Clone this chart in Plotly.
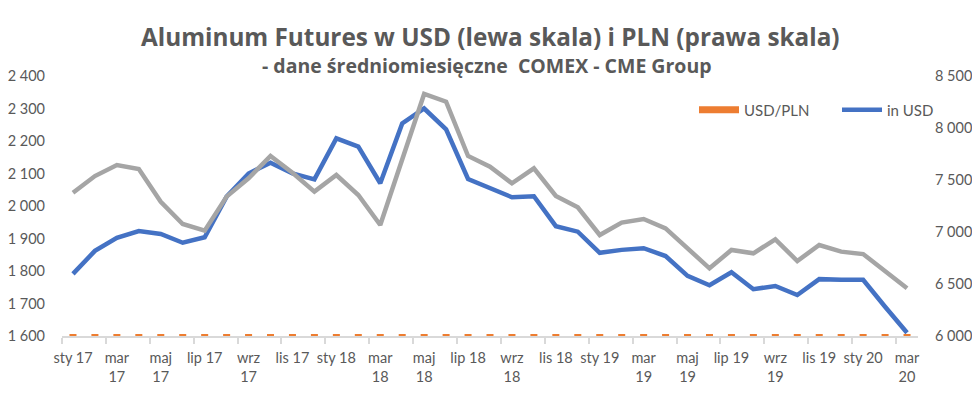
import plotly.graph_objects as go

months = ["sty 17","lut 17","mar 17","kwi 17","maj 17","cze 17","lip 17","sie 17","wrz 17","paź 17","lis 17","gru 17",
          "sty 18","lut 18","mar 18","kwi 18","maj 18","cze 18","lip 18","sie 18","wrz 18","paź 18","lis 18","gru 18",
          "sty 19","lut 19","mar 19","kwi 19","maj 19","cze 19","lip 19","sie 19","wrz 19","paź 19","lis 19","gru 19",
          "sty 20","lut 20","mar 20"]

usd = [1791, 1862, 1902, 1923, 1914, 1887, 1904, 2029, 2100, 2133, 2100, 2082,
       2208, 2183, 2070, 2254, 2300, 2236, 2083, 2056, 2027, 2030, 1938, 1921,
       1856, 1865, 1870, 1846, 1785, 1756, 1796, 1744, 1754, 1726, 1775, 1773,
       1773, 1690, 1610]

pln = [7378, 7538, 7644, 7606, 7291, 7077, 7013, 7340, 7516, 7731, 7570, 7388,
       7548, 7356, 7067, 7692, 8327, 8253, 7731, 7628, 7468, 7612, 7346, 7237,
       6971, 7090, 7125, 7035, 6843, 6651, 6827, 6795, 6930, 6721, 6875, 6811,
       6788, 6618, 6459]

usdpln = [4.12, 4.06, 4.02, 3.96, 3.81, 3.75, 3.68, 3.62, 3.58, 3.62, 3.60, 3.55,
          3.42, 3.37, 3.41, 3.41, 3.62, 3.69, 3.70, 3.71, 3.68, 3.75, 3.79, 3.77,
          3.76, 3.80, 3.81, 3.81, 3.83, 3.78, 3.80, 3.90, 3.95, 3.89, 3.87, 3.84,
          3.83, 3.92, 4.01]

tick_idx = list(range(0, 39, 2))
tick_text = ["sty 17","mar<br>17","maj<br>17","lip 17","wrz<br>17","lis 17","sty 18","mar<br>18","maj<br>18","lip 18",
             "wrz<br>18","lis 18","sty 19","mar<br>19","maj<br>19","lip 19","wrz<br>19","lis 19","sty 20","mar<br>20"]

left_ticks = [1600, 1700, 1800, 1900, 2000, 2100, 2200, 2300, 2400]
right_ticks = [6000, 6500, 7000, 7500, 8000, 8500]

x = list(range(len(months)))
FONT = "Lato"
TFONT = "Open Sans"
GREY_TXT = "#595959"

fig = go.Figure()
fig.add_trace(go.Bar(x=x, y=usdpln, base=1600, width=0.32, marker_color="#ED7D31",
                     marker_line_width=0, showlegend=False, name="USD/PLN", yaxis="y"))
fig.add_trace(go.Scatter(x=x, y=pln, mode="lines", line=dict(color="#A5A5A5", width=4.5),
                         showlegend=False, name="PLN", yaxis="y2"))
fig.add_trace(go.Scatter(x=x, y=usd, mode="lines", line=dict(color="#4472C4", width=4.5),
                         name="in USD", yaxis="y"))
# legend entry for the USD/PLN series
fig.add_trace(go.Scatter(x=[None], y=[None], mode="lines", line=dict(color="#ED7D31", width=7),
                         name="USD/PLN", yaxis="y", legendrank=1))

# page has an 8px body margin, so the figure is 8px smaller and shifted
fig.update_layout(
    width=972, height=391,
    margin=dict(l=54, r=62, t=68, b=63, autoexpand=False),
    paper_bgcolor="white", plot_bgcolor="white",
    separators=", ",
    font=dict(family=FONT, size=14, color=GREY_TXT),
    barmode="overlay",
    showlegend=True,
    legend=dict(orientation="h", x=(694 - 62) / 856, y=(336 - 110) / 260, xanchor="left", yanchor="middle",
                font=dict(size=15, color=GREY_TXT), bgcolor="rgba(0,0,0,0)", itemwidth=40,
                entrywidth=88, entrywidthmode="pixels", traceorder="normal"),
    xaxis=dict(range=[-0.5, 38.5], tickmode="array", tickvals=tick_idx, ticktext=tick_text,
               tickangle=0, automargin=False,
               ticks="", showgrid=False, zeroline=False, showline=True, linecolor="#D9D9D9",
               linewidth=1.5, layer="below traces", ticklabelstandoff=8,
               tickfont=dict(size=14.5, color=GREY_TXT),
               minor=dict(tick0=-0.5, dtick=2, ticks="outside", ticklen=6, tickcolor="#D9D9D9",
                          tickwidth=1.5, showgrid=False)),
    yaxis=dict(range=[1600, 2400], tickmode="array", tickvals=left_ticks, tickformat=",d",
               automargin=False,
               showgrid=False, zeroline=False, showline=False, ticks="",
               ticklabelstandoff=16, tickfont=dict(size=14.5, color=GREY_TXT)),
    yaxis2=dict(range=[6000, 8500], tickmode="array", tickvals=right_ticks, tickformat=",d",
                automargin=False,
                overlaying="y", side="right", showgrid=False, zeroline=False, showline=False,
                ticks="", ticklabelstandoff=16, tickfont=dict(size=14.5, color=GREY_TXT)),
    annotations=[
        dict(text="<b>Aluminum Futures w USD (lewa skala) i PLN (prawa skala)</b>",
             xref="paper", yref="paper", x=(490 - 62) / 856, y=(336 - 36) / 260, xanchor="center", yanchor="middle",
             showarrow=False, font=dict(family=TFONT, size=24.3, color=GREY_TXT)),
        dict(text="<b>- dane średniomiesięczne  COMEX - CME Group</b>",
             xref="paper", yref="paper", x=(487 - 62) / 856, y=(336 - 66) / 260, xanchor="center", yanchor="middle",
             showarrow=False, font=dict(family=TFONT, size=19.5, color=GREY_TXT)),
    ],
)

fig.write_html("out.html")
